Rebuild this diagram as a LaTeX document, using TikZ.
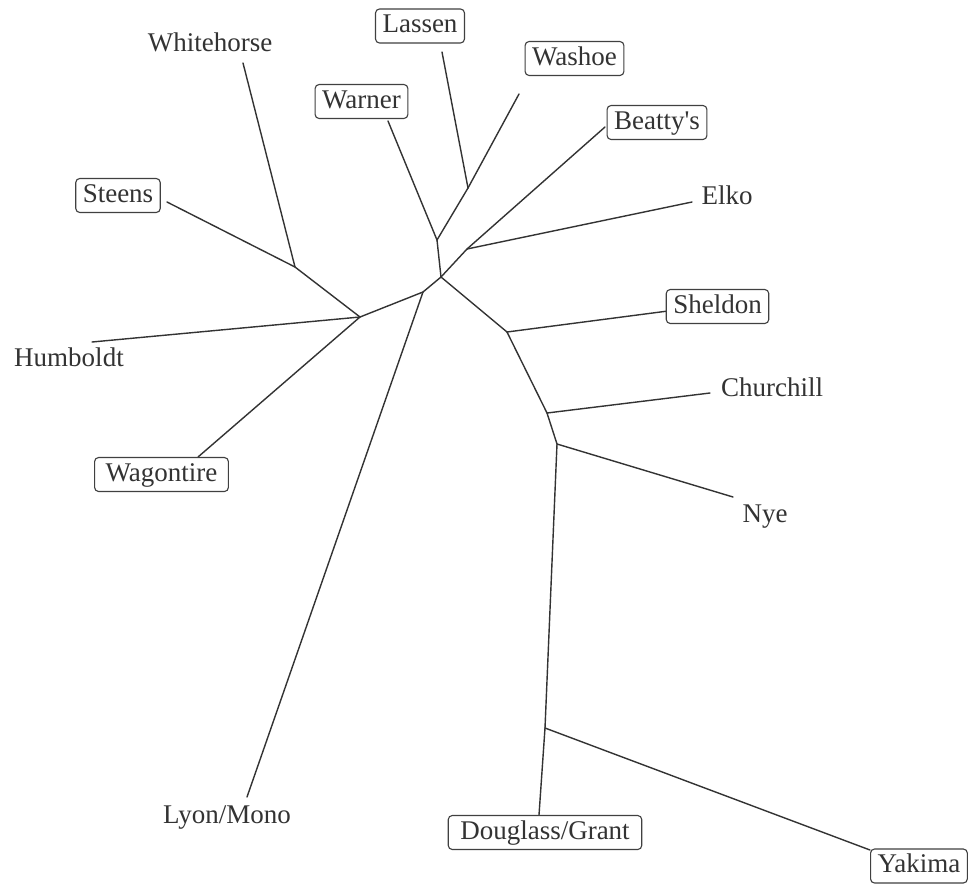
\documentclass[tikz,border=0pt]{standalone}
\usepackage{fontspec}
\setmainfont{Liberation Serif}[Ligatures=TeXOff]
\begin{document}
\begin{tikzpicture}[x=1pt,y=-1pt,
  lbl/.style={font=\fontsize{27}{31}\selectfont, text=black!80, inner sep=0pt, text height=18pt, text depth=5pt},
  boxlbl/.style={lbl, draw=black!75, line width=1.1pt, rounded corners=4pt, fill=white, inner xsep=7pt, minimum height=34pt},
  branch/.style={draw=black!80, line width=1.4pt, line cap=round, line join=round}]
\useasboundingbox[fill=white] (0,0) rectangle (968,884);
% internal junctions
\coordinate (n1) at (468,188);
\coordinate (n2) at (437,240);
\coordinate (A) at (441,277);
\coordinate (n3) at (467,249);
\coordinate (B) at (423,292);
\coordinate (C) at (360,317);
\coordinate (n4) at (295,267);
\coordinate (D) at (507,332);
\coordinate (E) at (547,413);
\coordinate (F) at (557,444);
\coordinate (G) at (545,728);
% leaf ends
\coordinate (lLassen) at (442,52);
\coordinate (lWashoe) at (519,94);
\coordinate (lWarner) at (388,121);
\coordinate (lBeatty) at (605,127);
\coordinate (lElko) at (692,202);
\coordinate (lWhite) at (243,63);
\coordinate (lSteens) at (167,202);
\coordinate (lHum) at (92,342);
\coordinate (lWag) at (198,457);
\coordinate (lLyon) at (247,797);
\coordinate (lShel) at (668,311);
\coordinate (lChur) at (710,393);
\coordinate (lNye) at (733,497);
\coordinate (lDoug) at (539,815);
\coordinate (lYak) at (870,850);
% branches
\draw[branch] (n1) -- (lLassen);
\draw[branch] (n1) -- (lWashoe);
\draw[branch] (n1) -- (n2);
\draw[branch] (n2) -- (lWarner);
\draw[branch] (n2) -- (A);
\draw[branch] (A) -- (n3);
\draw[branch] (n3) -- (lBeatty);
\draw[branch] (n3) -- (lElko);
\draw[branch] (A) -- (B);
\draw[branch] (B) -- (C);
\draw[branch] (B) -- (lLyon);
\draw[branch] (C) -- (n4);
\draw[branch] (n4) -- (lWhite);
\draw[branch] (n4) -- (lSteens);
\draw[branch] (C) -- (lHum);
\draw[branch] (C) -- (lWag);
\draw[branch] (A) -- (D);
\draw[branch] (D) -- (lShel);
\draw[branch] (D) -- (E);
\draw[branch] (E) -- (lChur);
\draw[branch] (E) -- (F);
\draw[branch] (F) -- (lNye);
\draw[branch] (F) -- (G);
\draw[branch] (G) -- (lDoug);
\draw[branch] (G) -- (lYak);
% labels
\node[boxlbl] (Lassen) at (420,26) {Lassen};
\node[boxlbl] (Washoe) at (574.5,58.5) {Washoe};
\node[boxlbl] (Warner) at (361.5,101.5) {Warner};
\node[boxlbl] (Beatty) at (657,122.5) {Beatty's};
\node[boxlbl] (Steens) at (118,195.5) {Steens};
\node[boxlbl] (Sheldon) at (717.5,306.5) {Sheldon};
\node[boxlbl, inner xsep=11pt] (Wagontire) at (161.5,474.5) {Wagontire};
\node[boxlbl, inner xsep=12pt] (Douglass) at (545,832.5) {Douglass/Grant};
\node[boxlbl, anchor=west] (Yakima) at (870,866) {Yakima};
\node[lbl] (Whitehorse) at (210,45) {Whitehorse};
\node[lbl] (Elko) at (727,198) {Elko};
\node[lbl] (Humboldt) at (69,360) {Humboldt};
\node[lbl] (Churchill) at (772,390) {Churchill};
\node[lbl] (Nye) at (765,516) {Nye};
\node[lbl] (Lyon) at (227,817) {Lyon/Mono};
\end{tikzpicture}
\end{document}
